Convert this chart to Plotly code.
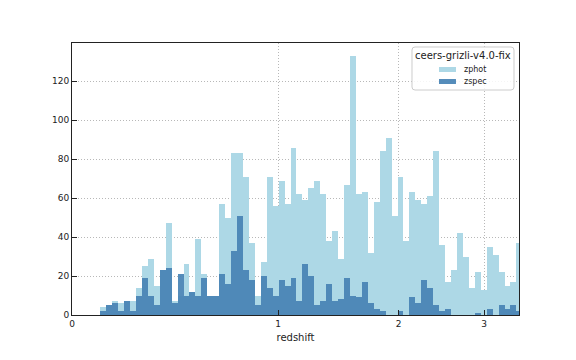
import numpy as np
import plotly.graph_objects as go

# Histogram bins: uniform in ln(1+z), starting at z=0.1 with step 0.02
z_start = 0.1
ln_step = 0.02

zphot_counts = [4, 5, 7, 6, 7, 7, 14, 25, 29, 15,
                23, 47, 7, 10, 26, 12, 39, 21, 10, 10,
                57, 50, 83, 83, 71, 37, 10, 27, 71, 56,
                69, 57, 86, 62, 59, 65, 69, 62, 38, 43,
                29, 67, 133, 62, 63, 32, 58, 84, 91, 51,
                71, 38, 63, 59, 57, 61, 84, 36, 17, 23,
                42, 30, 14, 22, 13, 35, 31, 22, 15, 17,
                37]
zspec_counts = [2, 5, 6, 2, 7, 2, 10, 19, 10, 5,
                23, 24, 6, 21, 10, 12, 10, 19, 10, 10,
                21, 16, 33, 51, 23, 18, 5, 20, 14, 10,
                18, 15, 19, 7, 26, 20, 5, 7, 16, 7,
                8, 19, 10, 9, 17, 6, 3, 2, 0, 0,
                2, 0, 9, 6, 18, 14, 5, 2, 3, 0,
                0, 0, 0, 1, 0, 3, 0, 5, 3, 5,
                2]

series_names = ["zphot", "zspec"]
series_colors = ["#add8e6", "rgba(70,130,180,0.92)"]
legend_title = "ceers-grizli-v4.0-fix"

x_tick_values = [0, 1, 2, 3]
y_tick_values = [0, 20, 40, 60, 80, 100, 120]
z_max = 3.5

n_bins = len(zphot_counts)
ln_edges = np.log(1 + z_start) + ln_step * np.arange(n_bins + 1)
z_edges = np.exp(ln_edges) - 1
xe = np.log10(1 + z_edges)  # plotted coordinate: log10(1+z)
centers = 0.5 * (xe[:-1] + xe[1:])
widths = np.diff(xe)

fig = go.Figure()
for name, counts, color in zip(series_names, [zphot_counts, zspec_counts], series_colors):
    fig.add_trace(go.Bar(x=centers, y=counts, width=widths, name=name,
                         marker=dict(color=color, line=dict(width=0)),
                         showlegend=False))

ymax = max(zphot_counts) * 1.05

# page has an 8px body margin; compensate so the plot area lands at 72..519 x 43..315
W, H = 568, 352
fig.update_layout(
    width=W, height=H,
    margin=dict(l=64, r=57, t=35, b=45),
    paper_bgcolor="white", plot_bgcolor="white",
    barmode="overlay", bargap=0,
    font=dict(family="DejaVu Sans", size=9, color="#222222"),
    showlegend=False,
)

# legend drawn as a boxed key (paper coordinates of the plot area)
pw, ph = 447.0, 272.0
bx0, bx1, by0, by1 = 0.7606, 0.9888, 0.8272, 0.9853
rx, ry = 3 / pw, 3 / ph
path = (f"M {bx0+rx},{by0} L {bx1-rx},{by0} Q {bx1},{by0} {bx1},{by0+ry} "
        f"L {bx1},{by1-ry} Q {bx1},{by1} {bx1-rx},{by1} "
        f"L {bx0+rx},{by1} Q {bx0},{by1} {bx0},{by1-ry} "
        f"L {bx0},{by0+ry} Q {bx0},{by0} {bx0+rx},{by0} Z")
shapes = [dict(type="path", xref="paper", yref="paper", path=path,
               fillcolor="rgba(255,255,255,0.85)", line=dict(color="#cccccc", width=1),
               layer="above")]
annotations = [dict(text=legend_title, xref="paper", yref="paper", x=0.8747, y=0.954,
                    xanchor="center", yanchor="middle", showarrow=False,
                    font=dict(size=10, color="#222222"))]
patch_y = [(0.8934, 0.9118), (0.8493, 0.8676)]
label_y = [0.9026, 0.8585]
for name, color, (py0, py1), ly in zip(series_names, series_colors, patch_y, label_y):
    shapes.append(dict(type="rect", xref="paper", yref="paper", x0=0.821, x1=0.859,
                       y0=py0, y1=py1, fillcolor=color, line=dict(width=0), layer="above"))
    annotations.append(dict(text=name, xref="paper", yref="paper", x=0.8725, y=ly,
                            xanchor="left", yanchor="middle", showarrow=False,
                            font=dict(size=8, color="#222222")))
fig.update_layout(shapes=shapes, annotations=annotations)

fig.update_xaxes(
    range=[0, np.log10(1 + z_max)],
    tickvals=[np.log10(1 + v) for v in x_tick_values],
    ticktext=[str(v) for v in x_tick_values],
    title=dict(text="redshift", font=dict(size=10), standoff=6),
    showline=True, linecolor="#222222", linewidth=1, mirror=True,
    ticks="inside", ticklen=5, tickcolor="#222222",
    showgrid=True, gridcolor="#b8b8b8", griddash="1px,2px", gridwidth=0.8,
    zeroline=False, layer="above traces",
)
fig.update_yaxes(
    range=[0, ymax],
    tickvals=y_tick_values,
    showline=True, linecolor="#222222", linewidth=1, mirror=True,
    ticks="inside", ticklen=5, tickcolor="#222222",
    showgrid=True, gridcolor="#b8b8b8", griddash="1px,2px", gridwidth=0.8,
    zeroline=False, layer="above traces",
)

fig.write_html("out.html")
